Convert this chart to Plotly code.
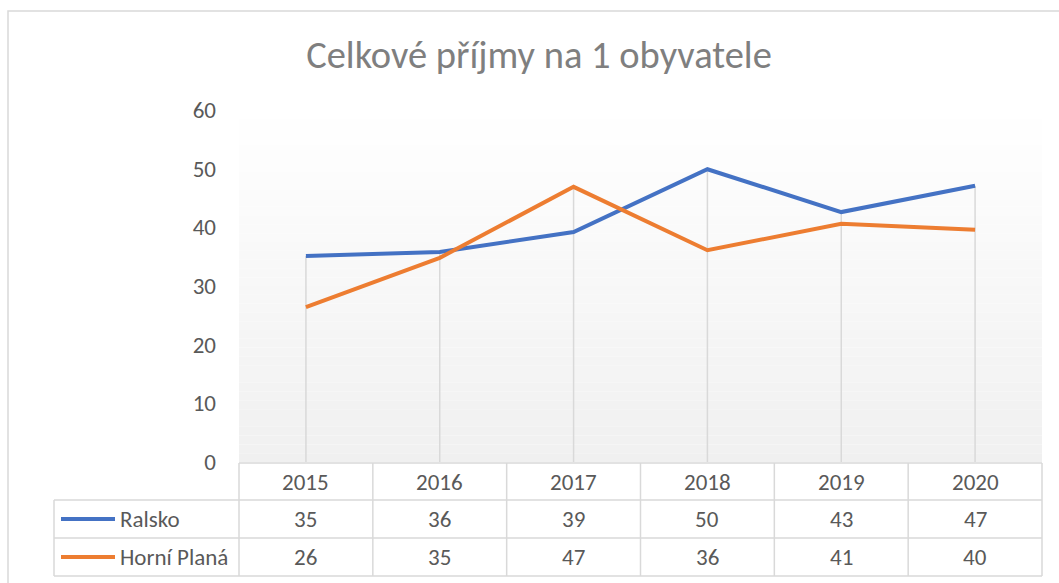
import plotly.graph_objects as go

# data
years = ["2015", "2016", "2017", "2018", "2019", "2020"]
ralsko = [35.1, 35.8, 39.2, 49.9, 42.6, 47.1]
horni_plana = [26.4, 34.8, 46.9, 36.1, 40.6, 39.6]
series_names = ["Ralsko", "Horní Planá"]

W, H = 1059, 583
FONT = "Calibri, Carlito, Lato, sans-serif"
GRAY_TXT = "#595959"
BORDER = "#d9d9d9"
BLUE = "#4472C4"
ORANGE = "#ED7D31"


def px(x):
    return x / W


def py(y):
    return 1 - y / H


# plot area in pixels
X0, X1 = 239, 1042
Y_TOP, Y_ZERO = 110, 462

fig = go.Figure()

# drop lines from the higher point down to zero
dx, dy = [], []
for i, yr in enumerate(years):
    dx += [yr, yr, None]
    dy += [0, max(ralsko[i], horni_plana[i]), None]
fig.add_trace(go.Scatter(x=dx, y=dy, mode="lines", line=dict(color=BORDER, width=1.5),
                         hoverinfo="skip", showlegend=False))

fig.add_trace(go.Scatter(x=years, y=ralsko, mode="lines", name=series_names[0],
                         line=dict(color=BLUE, width=4)))
fig.add_trace(go.Scatter(x=years, y=horni_plana, mode="lines", name=series_names[1],
                         line=dict(color=ORANGE, width=4)))

shapes = []
# gradient background of the plot area
n = 40
for k in range(n):
    t = (k + 0.5) / n
    c = int(round(255 - (255 - 240) * t))
    ya = Y_TOP + (Y_ZERO - Y_TOP) * k / n
    yb = Y_TOP + (Y_ZERO - Y_TOP) * (k + 1) / n
    shapes.append(dict(type="rect", xref="paper", yref="paper", layer="below",
                       x0=px(X0), x1=px(X1), y0=py(yb), y1=py(ya),
                       fillcolor=f"rgb({c},{c},{c})", line=dict(width=0)))

# outer chart border
shapes.append(dict(type="rect", xref="paper", yref="paper", x0=px(8), x1=px(1070),
                   y0=py(600), y1=py(11), line=dict(color=BORDER, width=1.5)))

# data table grid
col_w = (X1 - X0) / len(years)
row_y = [463, 500, 538, 576]
line = dict(color=BORDER, width=1.5)
shapes.append(dict(type="line", xref="paper", yref="paper", x0=px(X0), x1=px(X1),
                   y0=py(row_y[0]), y1=py(row_y[0]), line=line))
for ry in row_y[1:]:
    shapes.append(dict(type="line", xref="paper", yref="paper", x0=px(54), x1=px(X1),
                       y0=py(ry), y1=py(ry), line=line))
shapes.append(dict(type="line", xref="paper", yref="paper", x0=px(54), x1=px(54),
                   y0=py(row_y[1]), y1=py(row_y[3]), line=line))
for j in range(len(years) + 1):
    xx = X0 + j * col_w
    shapes.append(dict(type="line", xref="paper", yref="paper", x0=px(xx), x1=px(xx),
                       y0=py(row_y[0]), y1=py(row_y[3]), line=line))

cell_font = dict(size=23, color=GRAY_TXT, family=FONT)
annotations = []
# header row
for j, yr in enumerate(years):
    annotations.append(dict(x=px(X0 + (j + 0.5) * col_w), y=py((row_y[0] + row_y[1]) / 2),
                            xref="paper", yref="paper", text=yr, showarrow=False,
                            xanchor="center", yanchor="middle", font=cell_font))
# series rows
for r, (name, vals, col) in enumerate([(series_names[0], ralsko, BLUE),
                                        (series_names[1], horni_plana, ORANGE)]):
    yc = (row_y[r + 1] + row_y[r + 2]) / 2
    shapes.append(dict(type="line", xref="paper", yref="paper", x0=px(61), x1=px(115),
                       y0=py(yc), y1=py(yc), line=dict(color=col, width=4)))
    annotations.append(dict(x=px(118), y=py(yc), xref="paper", yref="paper", text=name,
                            xanchor="left", yanchor="middle", showarrow=False,
                            font=cell_font))
    for j, v in enumerate(vals):
        annotations.append(dict(x=px(X0 + (j + 0.5) * col_w), y=py(yc),
                                xref="paper", yref="paper", text=str(int(round(v))),
                                showarrow=False, xanchor="center", yanchor="middle",
                                font=cell_font))

fig.update_layout(
    width=W, height=H, autosize=False,
    margin=dict(l=0, r=0, t=0, b=0, autoexpand=False),
    paper_bgcolor="white", plot_bgcolor="rgba(0,0,0,0)",
    showlegend=False,
    title=dict(text="Celkové příjmy na 1 obyvatele", x=px(539), xanchor="center",
               y=py(55), yanchor="middle", automargin=False,
               font=dict(size=38.5, color="#7f7f7f", family=FONT)),
    xaxis=dict(domain=[px(X0), px(X1)], type="category", range=[-0.5, 5.5],
               automargin=False,
               showticklabels=False, showgrid=False, zeroline=False, showline=False),
    yaxis=dict(domain=[py(Y_ZERO), py(Y_TOP)], range=[0, 60], dtick=10,
               automargin=False,
               showgrid=False, zeroline=False, showline=False, ticks="",
               ticklabelstandoff=22,
               tickfont=dict(size=23, color=GRAY_TXT, family=FONT)),
    shapes=shapes, annotations=annotations,
)

fig.write_html("out.html", config={"displayModeBar": False},
               post_script="document.body.style.margin='0';")
